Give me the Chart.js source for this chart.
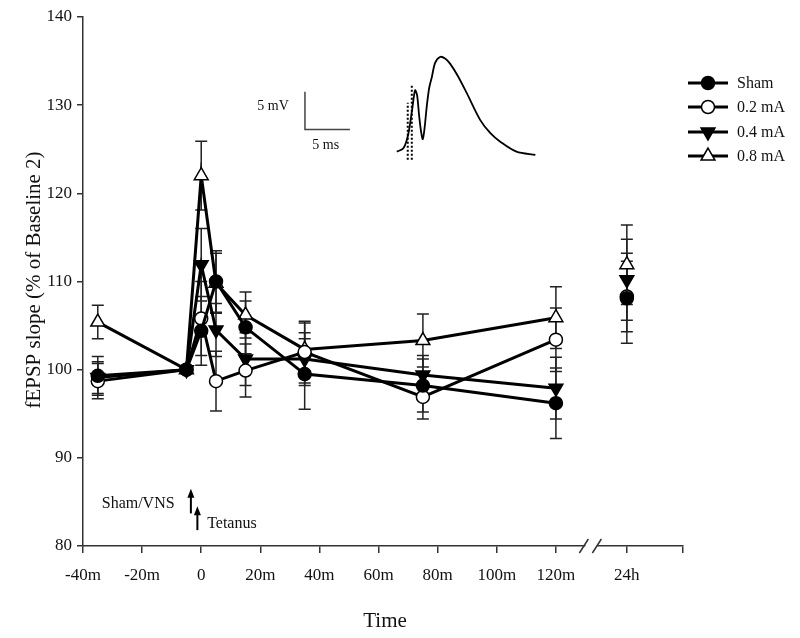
<!DOCTYPE html>
<html><head><meta charset="utf-8">
<script src="https://cdn.jsdelivr.net/npm/chart.js@4.4.1/dist/chart.umd.min.js"></script>
<style>html,body{margin:0;padding:0;background:#fff}#wrap{width:800px;height:638px;position:relative}</style>
</head><body><div id="wrap"><canvas id="c" width="800" height="638"></canvas></div>
<script>
// ---- data ----
const timePoints = [-35, -5, 0, 5, 15, 35, 75, 120, 144]; // 144 = "24h" on broken axis
const seriesNames = ['Sham', '0.2 mA', '0.4 mA', '0.8 mA'];
const shamMean = [99.3, 100, 104.4, 110.0, 104.8, 99.5, 98.2, 96.2, 108.1];
const shamSem  = [2.2, 0, 3.9, 3.5, 3.0, 4.0, 3.0, 4.0, 5.1];
const mA02Mean = [98.7, 100, 105.8, 98.7, 99.9, 102.0, 96.9, 103.4, 108.3];
const mA02Sem  = [2.0, 0, 4.2, 3.4, 3.0, 3.5, 2.5, 3.6, 4.0];
const mA04Mean = [99.1, 100, 111.9, 104.5, 101.2, 101.2, 99.4, 97.9, 110.2];
const mA04Sem  = [1.8, 0, 4.1, 3.0, 3.0, 3.0, 2.2, 3.5, 4.6];
const mA08Mean = [105.4, 100, 122.0, 109.8, 106.2, 102.3, 103.3, 105.9, 111.9];
const mA08Sem  = [1.9, 0, 3.9, 3.4, 2.6, 3.0, 3.0, 3.5, 4.5];
const xTickValues = [-40, -20, 0, 20, 40, 60, 80, 100, 120, 144, 163];
const xTickLabels = ['-40m', '-20m', '0', '20m', '40m', '60m', '80m', '100m', '120m', '24h', ''];
const yTickValues = [80, 90, 100, 110, 120, 130, 140];
// inset fEPSP trace (ms, mV)
const traceMs = [0, 0.73, 1.26, 1.7, 2.03, 2.26, 2.48, 2.7, 2.89, 3.09, 3.33, 3.6, 3.9, 4.26, 4.8, 5.37, 5.92, 6.8, 7.78, 9.26, 10.4, 11.5, 13.3, 15.4];
const traceMv = [0, 0.46, 2.26, 5.6, 8.3, 7.6, 4.9, 2.7, 1.7, 3.2, 6.1, 8.6, 10.1, 12.0, 12.8, 12.6, 11.9, 10.2, 7.9, 4.3, 2.5, 1.35, 0, -0.45];
const stimMs = [1.22, 1.67];
const stimTopMv = [6.6, 9.0];
const stimBottomMv = -1.1;
const scaleBarMs = [-10.2, -10.2, -5.2];
const scaleBarMv = [8.1, 3.0, 3.0];

const FONT = "'Liberation Serif', 'Times New Roman', serif";
const meansAll = [shamMean, mA02Mean, mA04Mean, mA08Mean];
const semsAll = [shamSem, mA02Sem, mA04Sem, mA08Sem];
const styles = [
  {pointStyle: 'circle', radius: 6.5, rotation: 0, fill: '#000'},
  {pointStyle: 'circle', radius: 6.5, rotation: 0, fill: '#fff'},
  {pointStyle: 'triangle', radius: 8, rotation: 180, fill: '#000'},
  {pointStyle: 'triangle', radius: 8, rotation: 0, fill: '#fff'}
];

function seriesData(mean) {
  const d = [];
  timePoints.forEach((t, i) => {
    if (t === 144) d.push({x: 132, y: null});
    d.push({x: t, y: mean[i]});
  });
  return d;
}

const datasets = seriesNames.map((name, k) => ({
  label: name,
  data: seriesData(meansAll[k]),
  showLine: true,
  spanGaps: false,
  borderColor: '#000',
  borderWidth: 3,
  backgroundColor: styles[k].fill,
  pointBackgroundColor: styles[k].fill,
  pointBorderColor: '#000',
  pointBorderWidth: 1.5,
  pointStyle: styles[k].pointStyle,
  pointRadius: styles[k].radius,
  pointRotation: styles[k].rotation,
  xAxisID: 'x', yAxisID: 'y',
  order: k
}));

datasets.push({
  label: 'trace', data: traceMs.map((t, i) => ({x: t, y: traceMv[i]})),
  showLine: true, borderColor: '#000', borderWidth: 1.8, pointRadius: 0, tension: 0.3,
  xAxisID: 'x2', yAxisID: 'y2', order: 10
});
stimMs.forEach((t, i) => datasets.push({
  label: 'stim' + i, data: [{x: t, y: stimBottomMv}, {x: t, y: stimTopMv[i]}],
  showLine: true, borderColor: '#000', borderWidth: 2, borderDash: [2, 2], pointRadius: 0,
  xAxisID: 'x2', yAxisID: 'y2', order: 10
}));
datasets.push({
  label: 'scalebar', data: scaleBarMs.map((t, i) => ({x: t, y: scaleBarMv[i]})),
  showLine: true, borderColor: '#444', borderWidth: 1.5, pointRadius: 0,
  xAxisID: 'x2', yAxisID: 'y2', order: 10
});

function drawMarker(ctx, k, x, y) {
  const s = styles[k];
  ctx.save();
  ctx.fillStyle = s.fill; ctx.strokeStyle = '#000'; ctx.lineWidth = 1.5;
  ctx.beginPath();
  if (s.pointStyle === 'circle') {
    ctx.arc(x, y, s.radius, 0, Math.PI * 2);
  } else {
    const r = s.radius; const rot = s.rotation * Math.PI / 180;
    for (let j = 0; j < 3; j++) {
      const a = rot + j * 2 * Math.PI / 3;
      const px = x + Math.sin(a) * r, py = y - Math.cos(a) * r;
      if (j === 0) ctx.moveTo(px, py); else ctx.lineTo(px, py);
    }
    ctx.closePath();
  }
  ctx.fill(); ctx.stroke();
  ctx.restore();
}

const extras = {
  id: 'extras',
  beforeDatasetsDraw(chart) {
    const ctx = chart.ctx, xs = chart.scales.x, ys = chart.scales.y;
    ctx.save();
    ctx.strokeStyle = '#222'; ctx.lineWidth = 1.5;
    meansAll.forEach((mean, k) => {
      mean.forEach((m, i) => {
        const s = semsAll[k][i];
        if (!s) return;
        const px = xs.getPixelForValue(timePoints[i]);
        const y1 = ys.getPixelForValue(m + s), y2 = ys.getPixelForValue(m - s);
        ctx.beginPath();
        ctx.moveTo(px, y1); ctx.lineTo(px, y2);
        ctx.moveTo(px - 6, y1); ctx.lineTo(px + 6, y1);
        ctx.moveTo(px - 6, y2); ctx.lineTo(px + 6, y2);
        ctx.stroke();
      });
    });
    ctx.restore();
  },
  afterDraw(chart) {
    const ctx = chart.ctx, xs = chart.scales.x, ys = chart.scales.y;
    const x2 = chart.scales.x2, y2 = chart.scales.y2;
    const area = chart.chartArea;
    ctx.save();
    // axis titles
    ctx.fillStyle = '#111';
    ctx.font = '21px ' + FONT;
    ctx.textAlign = 'center'; ctx.textBaseline = 'middle';
    ctx.fillText('Time', 385, 621);
    ctx.save();
    ctx.translate(34, 280); ctx.rotate(-Math.PI / 2);
    ctx.fillText('fEPSP slope (% of Baseline 2)', 0, 0);
    ctx.restore();
    // axis break
    const bx = xs.getPixelForValue(132), by = area.bottom;
    ctx.fillStyle = '#fff';
    ctx.fillRect(bx - 6, by - 3, 12, 6);
    ctx.strokeStyle = '#333'; ctx.lineWidth = 1.5;
    ctx.beginPath();
    ctx.moveTo(bx - 12, by + 7); ctx.lineTo(bx - 3, by - 7);
    ctx.moveTo(bx + 1, by + 7); ctx.lineTo(bx + 10, by - 7);
    ctx.stroke();
    // arrows & annotation
    function arrow(xv, yb, yt) {
      const px = xs.getPixelForValue(xv), pb = ys.getPixelForValue(yb), pt = ys.getPixelForValue(yt);
      ctx.strokeStyle = '#000'; ctx.fillStyle = '#000'; ctx.lineWidth = 2;
      ctx.beginPath(); ctx.moveTo(px, pb); ctx.lineTo(px, pt + 6); ctx.stroke();
      ctx.beginPath(); ctx.moveTo(px, pt); ctx.lineTo(px - 3.5, pt + 9); ctx.lineTo(px + 3.5, pt + 9); ctx.closePath(); ctx.fill();
    }
    arrow(-3.5, 83.7, 86.5);
    arrow(-1.3, 81.8, 84.5);
    ctx.fillStyle = '#111'; ctx.font = '16px ' + FONT; ctx.textBaseline = 'middle';
    ctx.textAlign = 'right';
    ctx.fillText('Sham/VNS', xs.getPixelForValue(-9), ys.getPixelForValue(84.8));
    ctx.textAlign = 'left';
    ctx.fillText('Tetanus', xs.getPixelForValue(2), ys.getPixelForValue(82.5));
    // inset labels
    ctx.font = '14px ' + FONT;
    ctx.textAlign = 'right';
    ctx.fillText('5 mV', x2.getPixelForValue(-12.0), y2.getPixelForValue(6.1));
    ctx.textAlign = 'center';
    ctx.fillText('5 ms', x2.getPixelForValue(-7.9), y2.getPixelForValue(0.9));
    // legend
    const rows = [83, 107, 132, 156];
    seriesNames.forEach((name, k) => {
      const y = rows[k];
      ctx.strokeStyle = '#000'; ctx.lineWidth = 3;
      ctx.beginPath(); ctx.moveTo(688, y); ctx.lineTo(728, y); ctx.stroke();
      drawMarker(ctx, k, 708, y);
      ctx.fillStyle = '#111'; ctx.font = '16px ' + FONT; ctx.textAlign = 'left'; ctx.textBaseline = 'middle';
      ctx.fillText(name, 737, y + 1);
    });
    ctx.restore();
  }
};

new Chart(document.getElementById('c'), {
  type: 'scatter',
  data: {datasets},
  options: {
    responsive: false, animation: false, devicePixelRatio: 1,
    layout: {padding: {left: 0, top: 17, right: 117, bottom: 0}},
    plugins: {legend: {display: false}, tooltip: {enabled: false}},
    scales: {
      x: {
        type: 'linear', min: -40, max: 163, position: 'bottom',
        afterBuildTicks: s => { s.ticks = xTickValues.map(v => ({value: v})); },
        afterFit: s => { s.height = 92; },
        ticks: {
          autoSkip: false, maxRotation: 0, padding: 12, color: '#111',
          font: {family: FONT, size: 17},
          callback: v => { const i = xTickValues.indexOf(v); return i >= 0 ? xTickLabels[i] : ''; }
        },
        grid: {drawOnChartArea: false, drawTicks: true, tickLength: 7, color: '#333', lineWidth: 1.5},
        border: {color: '#333', width: 1.5}
      },
      y: {
        type: 'linear', min: 80, max: 140, position: 'left',
        afterBuildTicks: s => { s.ticks = yTickValues.map(v => ({value: v})); },
        afterFit: s => { s.width = 83; },
        ticks: {padding: 5, color: '#111', font: {family: FONT, size: 17}},
        grid: {drawOnChartArea: false, drawTicks: true, tickLength: 6, color: '#333', lineWidth: 1.5},
        border: {color: '#333', width: 1.5}
      },
      x2: {type: 'linear', display: false, min: -34.86, max: 31.8},
      y2: {type: 'linear', display: false, min: -53.3, max: 18.2}
    }
  },
  plugins: [extras]
});
</script></body></html>
